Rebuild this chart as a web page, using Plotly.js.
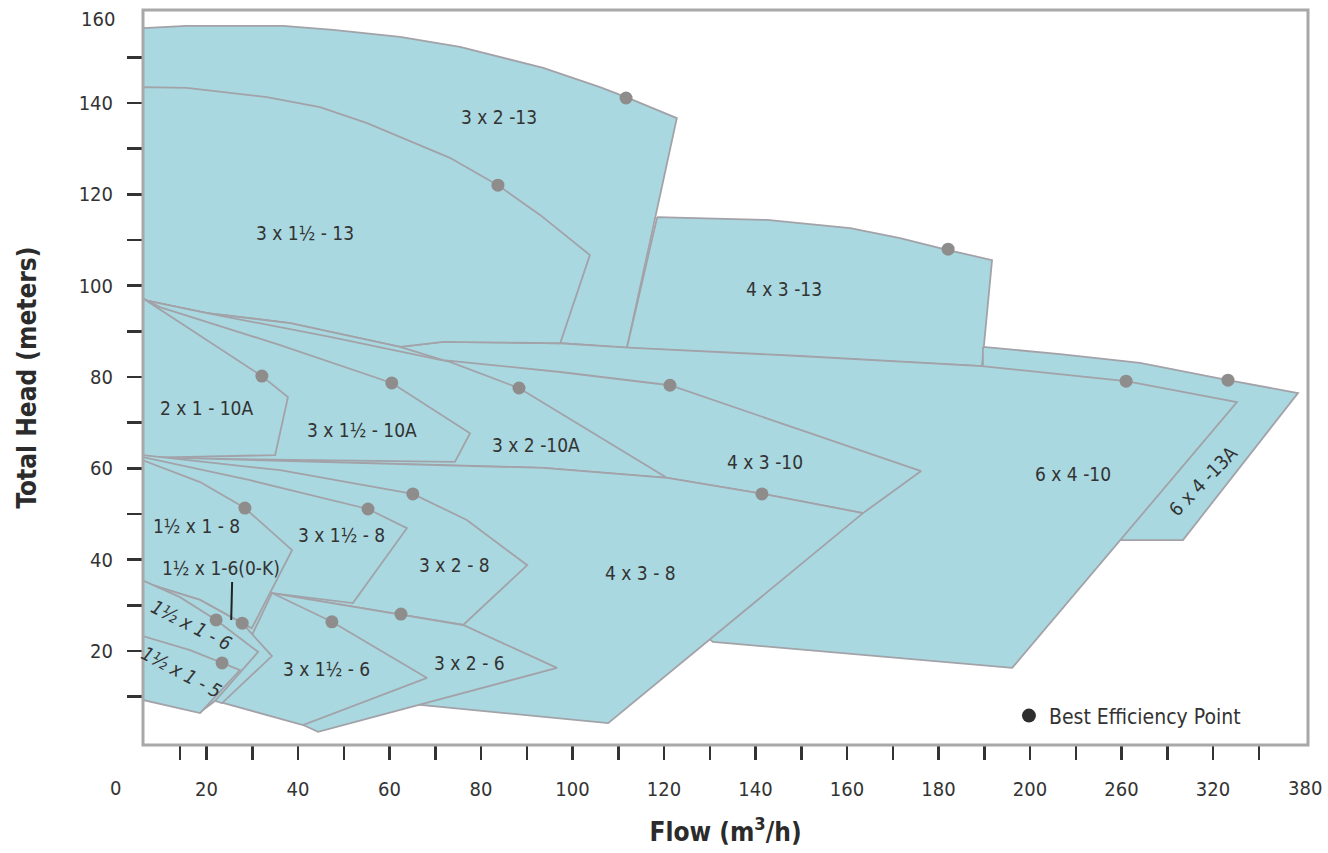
<!DOCTYPE html>
<html>
<head>
<meta charset="utf-8">
<script src="https://cdn.plot.ly/plotly-3.0.1.min.js"></script>
<style>
  html, body { margin: 0; padding: 0; background: #ffffff; }
  #chart { width: 1328px; height: 853px; }
</style>
</head>
<body>
<div id="chart"></div>
<script>
// ---------------- DATA (flow in m3/h, head in m) ----------------
const pumpNames = ['3 x 2 -13', '4 x 3 -13', '6 x 4 -13A', '6 x 4 -10', '3 x 1½ - 13', '4 x 3 -10',
  '3 x 2 -10A', '3 x 1½ - 10A', '2 x 1 - 10A', '4 x 3 - 8', '3 x 2 - 8', '3 x 1½ - 8', '1½ x 1 - 8',
  '3 x 2 - 6', '3 x 1½ - 6', '1½ x 1-6(0-K)', '1½ x 1 - 6', '1½ x 1 - 5'];

const pumpFlows = [
  [6, 15.7, 36.7, 47.7, 62.3, 75.4, 93.6, 106.0, 111.7, 122.8, 111.9, 97.3, 71.7, 62.3, 38.3, 20.1, 6],
  [118.5, 142.5, 160.7, 171.6, 182.1, 191.7, 189.5, 111.9],
  [189.7, 219.7, 272.1, 329.8, 375.7, 300.3, 258.4, 278.7, 189.7],
  [62.3, 71.7, 97.3, 113.2, 149.7, 171.6, 189.5, 263.0, 335.7, 196.1, 130.7, 106.0, 73.2],
  [6, 15.7, 33.2, 44.8, 55.1, 73.2, 83.7, 92.9, 103.8, 97.3, 71.7, 62.3, 38.3, 20.1, 6],
  [6, 20.1, 38.3, 62.3, 71.7, 97.3, 121.3, 149.7, 176.2, 163.5, 141.6, 120.7, 93.6, 6],
  [6, 20.1, 47.0, 73.2, 88.3, 120.7, 93.6, 6],
  [6, 9.8, 36.1, 60.5, 77.6, 74.3, 6],
  [6, 18.6, 32.1, 37.8, 35.0, 6],
  [6, 40.4, 93.6, 120.7, 141.6, 163.5, 107.8, 66.7, 51.4, 18.6, 6],
  [6, 36.1, 65.1, 76.9, 90.1, 76.1, 62.7, 34.3, 18.6, 6],
  [6, 29.5, 55.3, 63.8, 52.0, 34.3, 6],
  [6, 18.6, 28.4, 38.7, 29.9, 18.6, 6],
  [34.3, 62.7, 76.1, 96.6, 66.7, 44.4, 41.1, 38.3],
  [34.3, 47.4, 68.2, 41.1, 23.0, 29.5],
  [6, 18.6, 27.8, 34.3, 23.4, 19.7, 6],
  [6, 14.2, 22.1, 31.3, 21.9, 18.6, 6],
  [6, 16.4, 23.4, 27.3, 18.6, 6]
];

const pumpHeads = [
  [156.4, 156.9, 156.9, 156.0, 154.5, 152.3, 147.7, 143.5, 141.3, 136.7, 86.4, 87.4, 87.7, 86.6, 91.8, 94.0, 96.9],
  [115.0, 114.4, 112.6, 110.4, 107.8, 105.6, 82.4, 86.4],
  [86.6, 85.0, 83.1, 79.3, 76.5, 44.3, 44.3, 64.0, 75.0],
  [86.6, 87.7, 87.4, 86.4, 84.6, 83.3, 82.4, 79.1, 74.5, 16.3, 22.0, 42.1, 70.6],
  [143.5, 143.3, 141.3, 139.1, 135.6, 128.0, 122.0, 115.5, 106.7, 87.4, 87.7, 86.6, 91.8, 94.0, 96.9],
  [96.9, 94.0, 91.8, 86.6, 83.7, 81.1, 78.2, 68.4, 59.4, 50.2, 54.4, 57.9, 60.1, 62.3],
  [96.9, 94.0, 88.8, 83.3, 77.6, 57.9, 60.1, 62.3],
  [97.3, 95.3, 87.0, 78.7, 67.7, 61.4, 62.3],
  [97.3, 89.0, 80.2, 75.6, 62.9, 62.3],
  [62.5, 61.6, 60.1, 57.9, 54.4, 50.2, 4.2, 8.2, 11.5, 26.8, 31.2],
  [62.9, 59.6, 54.4, 48.7, 38.8, 25.7, 27.9, 32.7, 39.9, 44.3],
  [62.5, 57.4, 51.1, 46.9, 30.5, 32.7, 44.3],
  [61.8, 57.0, 51.3, 42.1, 25.0, 31.2, 35.1],
  [32.7, 27.9, 25.7, 16.3, 8.2, 2.3, 3.8, 20.2],
  [32.7, 26.4, 14.1, 3.8, 8.8, 22.4],
  [35.1, 31.2, 26.1, 18.9, 8.6, 9.7, 19.1],
  [35.5, 31.8, 26.8, 19.8, 9.1, 6.6, 9.7],
  [23.3, 20.2, 17.4, 15.8, 6.4, 9.3]
];

// Best efficiency points
const bepFlow = [111.7, 83.7, 182.1, 32.1, 60.5, 88.3, 121.3, 263.0, 329.8, 141.4, 65.1, 55.3, 28.4, 62.5, 47.4, 27.8, 22.1, 23.4];
const bepHead = [141.1, 122.0, 108.0, 80.2, 78.7, 77.6, 78.2, 79.1, 79.3, 54.4, 54.4, 51.1, 51.3, 28.1, 26.4, 26.1, 26.8, 17.4];

// Region labels
const labelText = ['3 x 2 -13', '3 x 1½ - 13', '4 x 3 -13', '2 x 1 - 10A', '3 x 1½ - 10A', '3 x 2 -10A',
  '4 x 3 -10', '6 x 4 -10', '6 x 4 -13A', '4 x 3 - 8', '3 x 2 - 8', '3 x 1½ - 8', '1½ x 1 - 8',
  '1½ x 1-6(0-K)', '3 x 1½ - 6', '3 x 2 - 6', '1½ x 1 - 6', '1½ x 1 - 5'];
const labelFlow = [83.9, 41.5, 146.2, 20.1, 54.0, 92.0, 142.1, 228.2, 313.4, 114.8, 74.1, 49.4, 17.9, 23.2, 46.3, 77.4, 16.8, 14.6];
const labelHead = [136.9, 111.5, 99.3, 73.2, 68.4, 65.1, 61.4, 58.8, 57.2, 37.1, 38.8, 45.4, 47.4, 38.2, 16.1, 17.4, 25.7, 15.4];
const labelAngle = [0, 0, 0, 0, 0, 0, 0, 0, -46, 0, 0, 0, 0, 0, 0, 0, 27, 28];
const labelItalic = [false, false, false, false, false, false, false, false, false, false, false, false, false, false, false, false, true, true];

// Leader line from the 1½ x 1-6(0-K) label to its BEP
const leaderFlow = [25.6, 25.4];
const leaderHead = [35.1, 26.8];

// Axis ticks (flow scale changes after 200)
const xTickFlows = [14.2, 20, 30, 40, 50, 60, 70, 80, 90, 100, 110, 120, 130, 140, 150, 160, 170, 180, 190, 200, 230, 260, 290, 320, 350];
const xTickLabels = ['', '20', '', '40', '', '60', '', '80', '', '100', '', '120', '', '140', '', '160', '', '180', '', '200', '', '260', '', '320', ''];
const xEdgeLabelFlows = [0, 380];
const xEdgeLabels = ['0', '380'];
const yTickVals = [10, 20, 30, 40, 50, 60, 70, 80, 90, 100, 110, 120, 130, 140, 150];
const yTickLabels = ['', '20', '', '40', '', '60', '', '80', '', '100', '', '120', '', '140', ''];
const yTopLabel = '160';

// ---------------- STYLE ----------------
const FONT = 'DejaVu Sans Condensed, DejaVu Sans, sans-serif';
const FILL = '#a9d8e0';
const EDGE = '#a2a2a8';
const TEXT = '#333333';

// piecewise flow scale: 20 m3/h per step up to 200, 60 m3/h per step above
const flowToAxis = f => (f <= 200 ? f / 20 : 10 + (f - 200) / 60);
const X_MIN = 0.306, X_MAX = 13.038;
const flowToPaper = f => (flowToAxis(f) - X_MIN) / (X_MAX - X_MIN);

const traces = [];
pumpNames.forEach((name, i) => {
  const xs = pumpFlows[i].map(flowToAxis);
  const ys = pumpHeads[i].slice();
  xs.push(xs[0]); ys.push(ys[0]);
  traces.push({
    type: 'scatter', mode: 'lines', name: name, x: xs, y: ys,
    fill: 'toself', fillcolor: FILL,
    line: { color: EDGE, width: 1.8 },
    showlegend: false, hoverinfo: 'name'
  });
});

traces.push({
  type: 'scatter', mode: 'lines', x: leaderFlow.map(flowToAxis), y: leaderHead,
  line: { color: '#222', width: 2 }, showlegend: false, hoverinfo: 'skip'
});

traces.push({
  type: 'scatter', mode: 'markers', name: 'BEP',
  x: bepFlow.map(flowToAxis), y: bepHead,
  marker: { color: '#8f8c8c', size: 13 },
  showlegend: false
});

// legend key
traces.push({
  type: 'scatter', mode: 'markers', name: 'Best Efficiency Point',
  x: [null], y: [null],
  marker: { color: '#2e2e2e', size: 14 },
  showlegend: true
});

const annotations = labelText.map((t, i) => ({
  x: flowToAxis(labelFlow[i]), y: labelHead[i], xref: 'x', yref: 'y',
  text: labelItalic[i] ? '<i>' + t + '</i>' : t,
  showarrow: false, textangle: labelAngle[i],
  font: { family: FONT, size: 19, color: TEXT },
  xanchor: 'center', yanchor: 'middle'
}));

xEdgeLabels.forEach((t, i) => {
  annotations.push({
    x: flowToPaper(xEdgeLabelFlows[i]), y: -0.0585, xref: 'paper', yref: 'paper',
    text: t, showarrow: false, xanchor: 'center', yanchor: 'middle',
    font: { family: FONT, size: 20, color: TEXT }
  });
});
annotations.push({
  x: -0.0223, y: 158.3, xref: 'paper', yref: 'y', text: yTopLabel, showarrow: false,
  xanchor: 'right', yanchor: 'middle', font: { family: FONT, size: 20, color: TEXT }
});

const layout = {
  width: 1328, height: 853,
  margin: { l: 143, r: 20, t: 10, b: 108 },
  paper_bgcolor: '#ffffff', plot_bgcolor: '#ffffff',
  font: { family: FONT, color: TEXT },
  xaxis: {
    range: [X_MIN, X_MAX], tickmode: 'array',
    tickvals: xTickFlows.map(flowToAxis), ticktext: xTickLabels,
    ticks: 'outside', ticklen: 14, tickwidth: 2.5, tickcolor: '#333',
    tickfont: { family: FONT, size: 20, color: TEXT }, ticklabelstandoff: 12,
    showgrid: false, zeroline: false, showline: false,
    title: { text: 'Flow (m<sup>3</sup>/h)', font: { family: FONT, size: 26, color: '#2b2b2b', weight: 700 }, standoff: 22 }
  },
  yaxis: {
    range: [-0.58, 160.37], tickmode: 'array',
    tickvals: yTickVals, ticktext: yTickLabels,
    ticks: 'outside', ticklen: 15, tickwidth: 2.5, tickcolor: '#333',
    tickfont: { family: FONT, size: 20, color: TEXT }, ticklabelstandoff: 10,
    showgrid: false, zeroline: false, showline: false,
    title: { text: 'Total Head (meters)', font: { family: FONT, size: 26, color: '#2b2b2b', weight: 700 }, standoff: 34 }
  },
  legend: {
    x: 0.7433, y: 0.0395, xanchor: 'left', yanchor: 'middle',
    bgcolor: 'rgba(0,0,0,0)', font: { family: FONT, size: 21, color: TEXT }
  },
  shapes: [{
    type: 'rect', xref: 'paper', yref: 'paper', x0: 0, x1: 1, y0: 0, y1: 1,
    line: { color: '#a8a8a8', width: 3 }, layer: 'above'
  }],
  annotations: annotations,
  showlegend: true
};

Plotly.newPlot('chart', traces, layout, { displayModeBar: false, staticPlot: true });
</script>
</body>
</html>
